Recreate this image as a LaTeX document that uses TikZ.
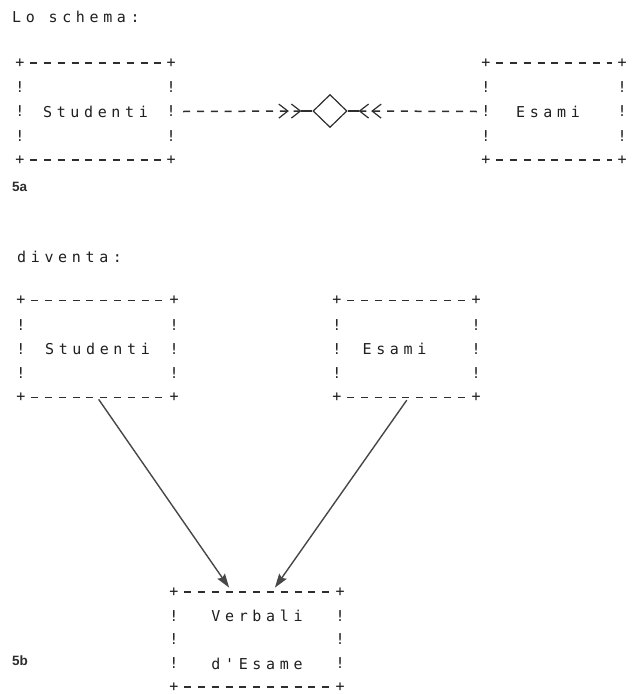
\documentclass[tikz,border=0pt]{standalone}
\usepackage{fontspec}
\newfontfamily\dotfont[LetterSpace=31, Ligatures=ResetAll]{DejaVu Sans Mono}
\newfontfamily\dotplain[Ligatures=ResetAll]{DejaVu Sans Mono}
\newfontfamily\figfont{Liberation Sans}
\usetikzlibrary{arrows.meta,shapes.geometric,calc}

\tikzset{
  mono/.style={font=\dotfont\fontsize{15}{17}\selectfont, text=black!88, inner sep=0pt},
  glyph/.style={font=\dotplain\fontsize{15}{17}\selectfont, text=black!88, inner sep=0pt},
  lbl/.style={mono},
  entity/.style={draw=none, minimum width=#1, minimum height=97, inner sep=0pt},
  rule/.style={line width=1.5pt, color=black!82, dash pattern=on 7pt off 6.8pt},
  stem/.style={line width=1.2pt, color=black!82},
  barbs/.style={-{Straight Barb[length=9pt,width=14pt,line width=1.2pt,sep=2pt]
                 Straight Barb[length=9pt,width=14pt,line width=1.2pt]}},
  flow/.style={line width=1.4pt, color=black!72,
               -{Stealth[length=14pt,width=9pt,inset=2pt]}},
  figno/.style={font=\figfont\bfseries\fontsize{13.5}{15}\selectfont,
                text=black!82, anchor=west, inner sep=0pt},
  heading/.style={mono, anchor=west},
}

% Character frame of an entity: '+' corners, dashed top and bottom, '!' sides
\newcommand\asciiframe[1]{%
  \foreach \a/\k in {north west/1,north east/2,south west/3,south east/4}
    \node[glyph] (#1-c\k) at (#1.\a) {+};
  \draw[rule] ([xshift=10.3pt]#1.north west) -- ([xshift=-10.3pt]#1.north east);
  \draw[rule] ([xshift=10.3pt]#1.south west) -- ([xshift=-10.3pt]#1.south east);
  \foreach \f/\k in {0.25/1,0.5/2,0.75/3}{
    \node[glyph] (#1-l\k) at ($(#1.north west)!\f!(#1.south west)$) {!};
    \node[glyph] (#1-r\k) at ($(#1.north east)!\f!(#1.south east)$) {!};
  }%
}

\begin{document}
\begin{tikzpicture}[x=1pt, y=-1pt]
\useasboundingbox[fill=white] (0,0) rectangle (639,694);

% ---- 5a: the relationship schema
\node[heading] (t1) at (12,17) {Lo schema:};

\node[entity=151, label={[lbl]center:Studenti}] (stud5a) at (95.5,111.5) {};
\asciiframe{stud5a}
\node[entity=136, label={[lbl, xshift=-6pt]center:Esami}] (esa5a) at (554,111.5) {};
\asciiframe{esa5a}

\node[diamond, draw=black!82, line width=1.2pt, minimum width=34, minimum height=33,
      inner sep=0pt] (rel) at (330,111) {};
\coordinate (inL) at ([xshift=-11pt]rel.west);
\coordinate (inR) at ([xshift=11pt]rel.east);
\draw[rule, barbs] ([xshift=12pt]stud5a.east) -- (inL);
\draw[stem] (inL) -- (rel.west);
\draw[rule, barbs] ([xshift=-9pt]esa5a.west) -- (inR);
\draw[stem] (inR) -- (rel.east);

\node[figno] (f5a) at (12,187) {5a};

% ---- 5b: the same schema with the relationship as an entity
\node[heading] (t2) at (17,257) {diventa:};

\node[entity=153, label={[lbl]center:Studenti}] (stud5b) at (97.5,349) {};
\asciiframe{stud5b}
\node[entity=139, label={[lbl, xshift=-12pt]center:Esami}] (esa5b) at (406.5,349) {};
\asciiframe{esa5b}

\node[entity=166, minimum height=95,
      label={[lbl, yshift=24pt]center:Verbali},
      label={[lbl, yshift=-24pt]center:d'Esame}] (verb) at (257,639.5) {};
\asciiframe{verb}

\draw[flow, shorten <=2pt, shorten >=5pt] (stud5b.south) -- ([xshift=-25pt]verb.north);
\draw[flow, shorten <=3pt, shorten >=5pt] ([xshift=2pt]esa5b.south) -- ([xshift=15pt]verb.north);

\node[figno] (f5b) at (12,661) {5b};
\end{tikzpicture}
\end{document}
